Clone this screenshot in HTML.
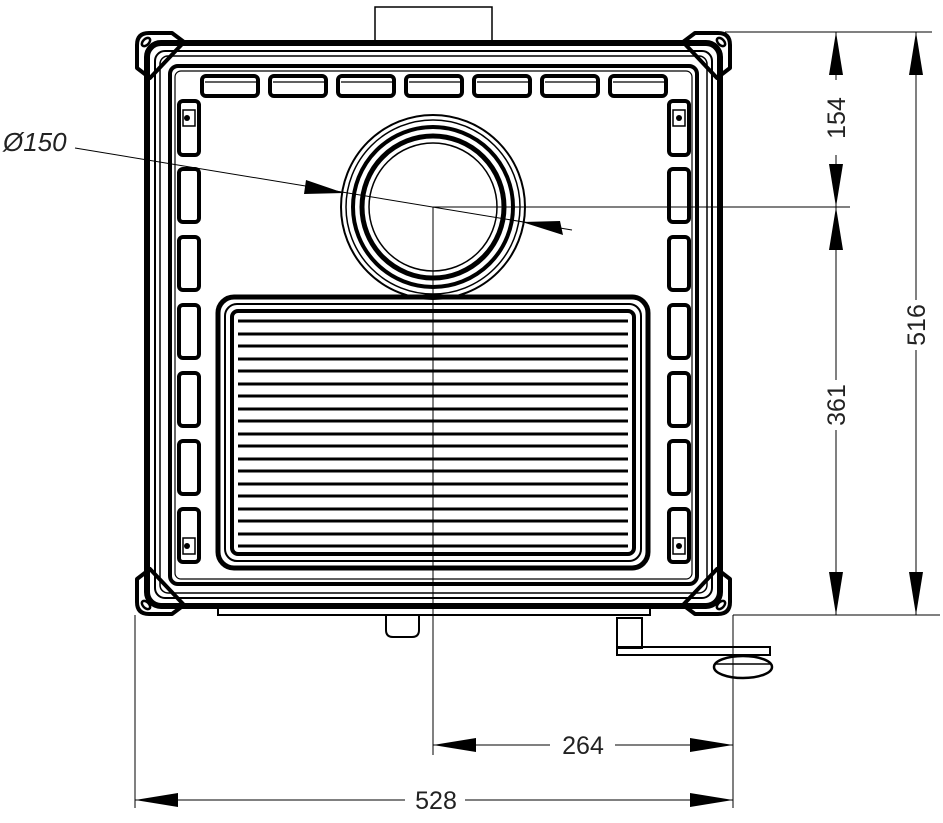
<!DOCTYPE html>
<html><head><style>html,body{margin:0;padding:0;background:#fff}svg{display:block}</style></head><body>
<svg width="943" height="823" viewBox="0 0 943 823" xmlns="http://www.w3.org/2000/svg" font-family="Liberation Sans, sans-serif">
<g fill="none" stroke="#000">
<rect x="375" y="7" width="117" height="34" stroke-width="1.5"/>
<!-- corner brackets -->
<g stroke-width="4" stroke-linejoin="round">
<path d="M137 45 Q137 33 149 33 L172 33 L184 42 L150 78 L137 68 Z"/>
<path d="M730 45 Q730 33 718 33 L695 33 L683 42 L717 78 L730 68 Z"/>
<path d="M137 602 Q137 614 149 614 L172 614 L184 605 L150 569 L137 579 Z"/>
<path d="M730 602 Q730 614 718 614 L695 614 L683 605 L717 569 L730 579 Z"/>
</g>
<g stroke-width="2.5">
<ellipse cx="146" cy="42" rx="3" ry="5" transform="rotate(45 146 42)"/>
<ellipse cx="721" cy="42" rx="3" ry="5" transform="rotate(-45 721 42)"/>
<ellipse cx="146" cy="605" rx="3" ry="5" transform="rotate(-45 146 605)"/>
<ellipse cx="721" cy="605" rx="3" ry="5" transform="rotate(45 721 605)"/>
</g>
<rect x="147" y="43" width="573" height="563" rx="14" stroke-width="6"/>
<rect x="155" y="51" width="557" height="547" rx="10" stroke-width="2"/>
<rect x="160" y="56" width="547" height="537" rx="8" stroke-width="1.5"/>
<rect x="170" y="66" width="527" height="518" rx="8" stroke-width="4"/>
<rect x="175" y="71" width="517" height="508" rx="6" stroke-width="1.2"/>
<g stroke-width="4">
<rect x="202" y="76" width="56" height="20" rx="4"/>
<rect x="270" y="76" width="56" height="20" rx="4"/>
<rect x="338" y="76" width="56" height="20" rx="4"/>
<rect x="406" y="76" width="56" height="20" rx="4"/>
<rect x="474" y="76" width="56" height="20" rx="4"/>
<rect x="542" y="76" width="56" height="20" rx="4"/>
<rect x="610" y="76" width="56" height="20" rx="4"/>
</g>
<g stroke-width="1.2">
<path d="M205 82 H258 M273 82 H326 M341 82 H394 M409 82 H462 M477 82 H530 M545 82 H598 M613 82 H666"/>
</g>
<g stroke-width="4">
<rect x="179" y="101" width="20" height="54" rx="4"/>
<rect x="179" y="169" width="20" height="53" rx="4"/>
<rect x="179" y="237" width="20" height="53" rx="4"/>
<rect x="179" y="305" width="20" height="53" rx="4"/>
<rect x="179" y="373" width="20" height="53" rx="4"/>
<rect x="179" y="441" width="20" height="53" rx="4"/>
<rect x="179" y="509" width="20" height="53" rx="4"/>
<rect x="669" y="101" width="20" height="54" rx="4"/>
<rect x="669" y="169" width="20" height="53" rx="4"/>
<rect x="669" y="237" width="20" height="53" rx="4"/>
<rect x="669" y="305" width="20" height="53" rx="4"/>
<rect x="669" y="373" width="20" height="53" rx="4"/>
<rect x="669" y="441" width="20" height="53" rx="4"/>
<rect x="669" y="509" width="20" height="53" rx="4"/>
</g>
<g stroke-width="1.5">
<rect x="183" y="110" width="12" height="16"/><rect x="673" y="110" width="12" height="16"/>
<rect x="183" y="538" width="12" height="16"/><rect x="673" y="538" width="12" height="16"/>
</g>
<g fill="#000" stroke="none">
<circle cx="187" cy="118" r="3"/><circle cx="679" cy="118" r="3"/>
<circle cx="187" cy="546" r="3"/><circle cx="679" cy="546" r="3"/>
</g>
<circle cx="433" cy="207" r="92" stroke-width="2"/>
<circle cx="433" cy="207" r="87" stroke-width="1.5"/>
<circle cx="433" cy="207" r="80" stroke-width="4"/>
<circle cx="433" cy="207" r="71" stroke-width="5"/>
<circle cx="433" cy="207" r="64" stroke-width="1.5"/>
<rect x="218" y="297" width="430" height="271" rx="16" stroke-width="5"/>
<rect x="225" y="304" width="416" height="257" rx="12" stroke-width="2"/>
<rect x="232" y="311" width="402" height="243" rx="6" stroke-width="4"/>
<g stroke-width="3">
<path d="M238 321H628 M238 334H628 M238 346H628 M238 359H628 M238 371H628 M238 384H628 M238 396H628 M238 409H628 M238 421H628 M238 434H628 M238 446H628 M238 459H628 M238 471H628 M238 484H628 M238 496H628 M238 509H628 M238 521H628 M238 534H628 M238 546H628"/>
</g>
<rect x="218" y="607" width="432" height="8" stroke-width="2"/>
<path d="M386 615 V630 Q386 637 393 637 H412 Q419 637 419 630 V615" stroke-width="2"/>
<rect x="617" y="618" width="25" height="30" stroke-width="2"/>
<rect x="617" y="647" width="153" height="8" stroke-width="2"/>
<ellipse cx="743" cy="667" rx="29" ry="11" stroke-width="2.5"/>
<path d="M716 664H770" stroke-width="1.5"/>
</g>
<g stroke="#000" stroke-width="1" fill="none">
<path d="M433 207 V755"/>
<path d="M433 207 H850"/>
<path d="M725 32 H932"/>
<path d="M733 615 H940"/>
<path d="M135 615 V808"/>
<path d="M733 615 V808"/>
<path d="M836 32 V80 M836 155 V207 M836 207 V380 M836 430 V615"/>
<path d="M916 32 V300 M916 350 V615"/>
<path d="M433 745 H550 M615 745 H733"/>
<path d="M135 800 H405 M465 800 H733"/>
<path d="M75 148 L572 230"/>
</g>
<g fill="#000">
<path d="M836 32 L829 75 L843 75 Z"/>
<path d="M836 207 L829 164 L843 164 Z"/>
<path d="M836 207 L829 250 L843 250 Z"/>
<path d="M836 615 L829 572 L843 572 Z"/>
<path d="M916 32 L909 75 L923 75 Z"/>
<path d="M916 615 L909 572 L923 572 Z"/>
<path d="M433 745 L476 738 L476 752 Z"/>
<path d="M733 745 L690 738 L690 752 Z"/>
<path d="M135 800 L178 793 L178 807 Z"/>
<path d="M733 800 L690 793 L690 807 Z"/>
<path d="M344 193 L306 180 L304 194 Z"/>
<path d="M522 222 L560 221 L563 235 Z"/>
</g>
<g font-size="25" fill="#222">
<text x="583" y="754" text-anchor="middle">264</text>
<text x="436" y="809" text-anchor="middle">528</text>
<text transform="translate(845,118) rotate(-90)" text-anchor="middle">154</text>
<text transform="translate(845,405) rotate(-90)" text-anchor="middle">361</text>
<text transform="translate(925,325) rotate(-90)" text-anchor="middle">516</text>
<text x="3" y="151" font-style="italic" font-size="26">Ø150</text>
</g>
</svg>
</body></html>
